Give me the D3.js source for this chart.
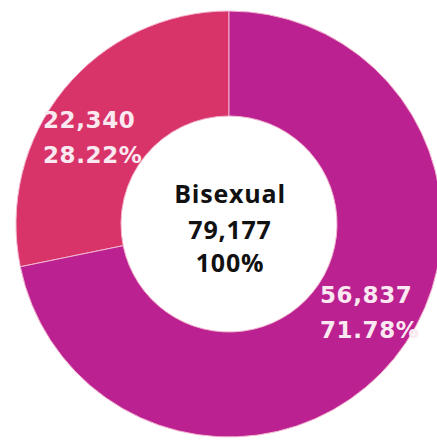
<!DOCTYPE html>
<html><head><meta charset="utf-8">
<script src="https://cdn.jsdelivr.net/npm/d3@7"></script>
<style>html,body{margin:0;padding:0;background:#fff;}svg{display:block;}</style>
</head><body>
<svg id="chart" width="437" height="442"></svg>
<script>
const categories = ["Other", "Main"];
const values = [22340, 56837];
const percents = ["28.22%", "71.78%"];
const colors = ["#d8346a", "#bb2191"];
const centerLabels = ["Bisexual", "79,177", "100%"];

const svg = d3.select("#chart");
const cx = 229, cy = 224, outerR = 213, innerR = 108;
const g = svg.append("g").attr("transform", `translate(${cx},${cy})`);

const pie = d3.pie().sort(null).value(d => d.v)
  .startAngle(0).endAngle(-2 * Math.PI);
const data = categories.map((c, i) => ({c, v: values[i], p: percents[i], col: colors[i]}));
const arcs = pie(data);
const arc = d3.arc().innerRadius(innerR).outerRadius(outerR);

g.selectAll("path").data(arcs).join("path")
  .attr("d", arc)
  .attr("fill", d => d.data.col)
  .attr("stroke", "#f3b6cf")
  .attr("stroke-width", 1);

const fmt = d3.format(",");
const labelPos = [[-186, -96], [91, 79]];
const lg = g.selectAll("g.lab").data(arcs).join("g").attr("class", "lab")
  .attr("transform", (d, i) => `translate(${labelPos[i][0]},${labelPos[i][1]})`);
lg.append("text").attr("y", 0).text(d => fmt(d.data.v));
lg.append("text").attr("y", 35).text(d => d.data.p);
lg.selectAll("text")
  .attr("fill", "#fbe9f1")
  .attr("font-family", "'DejaVu Sans', sans-serif")
  .attr("font-weight", "bold")
  .attr("font-size", 23)
  .attr("letter-spacing", 0.6);

g.selectAll("text.center").data(centerLabels).join("text")
  .attr("class", "center")
  .attr("x", 1)
  .attr("y", (d, i) => [-21, 15, 48][i])
  .attr("text-anchor", "middle")
  .attr("fill", "#111")
  .attr("font-family", "'Open Sans', sans-serif")
  .attr("font-weight", "bold")
  .attr("font-size", 25)
  .attr("letter-spacing", 0.8)
  .text(d => d);
</script>
</body></html>
